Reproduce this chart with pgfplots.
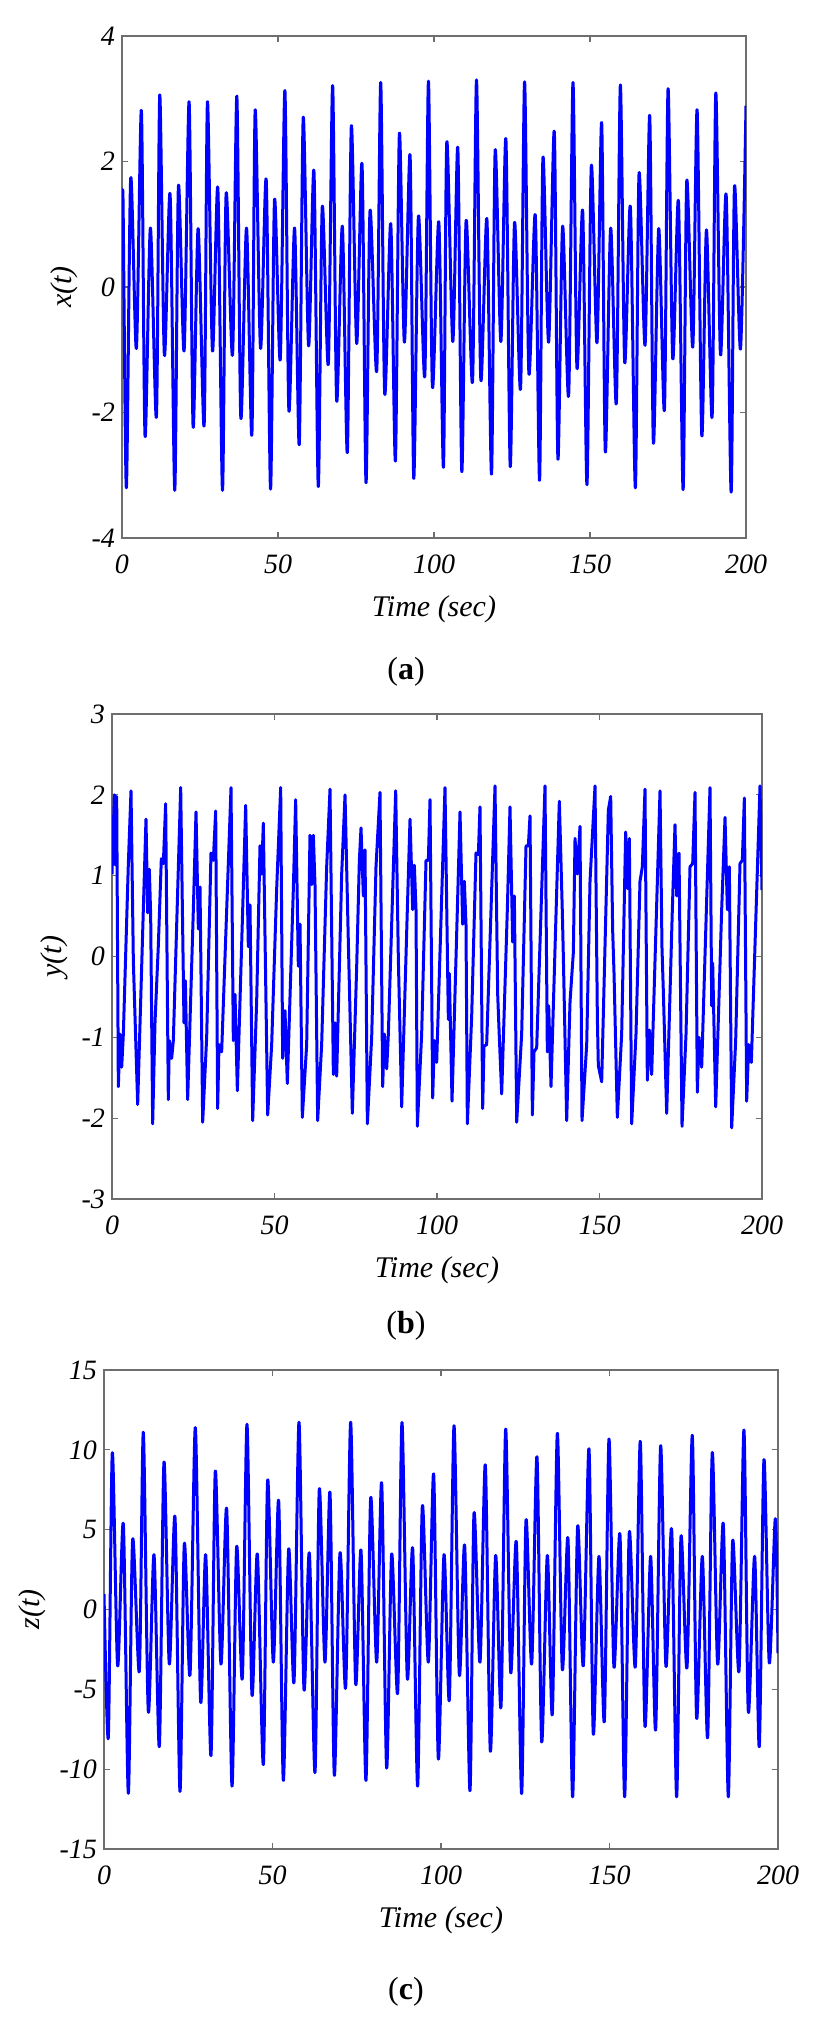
\documentclass[border=0pt]{standalone}
\usepackage{fontspec}
\setmainfont{Liberation Serif}
\usepackage{pgfplots}
\pgfplotsset{compat=1.18}
\usepackage{pgfplotstable}

\pgfplotstableread{
t v
0 1.04
0.33 1.38
1.40 -3.20
2.79 1.73
4.61 -0.98
6.21 2.81
7.39 -2.38
9.10 0.94
11.03 -2.07
12.10 3.06
13.59 -1.09
15.41 1.48
16.91 -3.24
18.09 1.61
19.90 -1.02
21.51 2.95
22.79 -2.23
24.40 0.93
26.32 -2.21
27.39 2.95
29.00 -1.02
30.71 1.58
32.21 -3.24
33.38 1.49
35.42 -1.09
36.81 3.04
38.09 -2.09
39.91 0.94
41.62 -2.36
42.69 2.82
44.40 -0.98
46.22 1.71
47.61 -3.22
48.89 1.39
50.71 -1.16
52.21 3.13
53.49 -1.97
55.31 0.94
56.81 -2.51
58.09 2.70
59.81 -0.94
61.52 1.85
62.91 -3.18
64.19 1.28
66.12 -1.23
67.51 3.21
68.80 -1.81
70.62 0.97
72.22 -2.64
73.51 2.57
75.22 -0.90
76.93 1.96
78.21 -3.12
79.50 1.22
81.64 -1.34
82.92 3.26
84.20 -1.70
86.13 1.01
87.63 -2.77
88.91 2.45
90.51 -0.88
92.33 2.10
93.51 -3.05
95.01 1.13
97.04 -1.42
98.22 3.28
99.50 -1.59
101.53 1.04
103.03 -2.87
104.10 2.31
106.03 -0.87
107.63 2.22
108.91 -2.94
110.30 1.06
112.34 -1.51
113.62 3.30
115.01 -1.48
116.94 1.09
118.44 -2.98
119.61 2.18
121.43 -0.87
123.04 2.36
124.43 -2.86
125.82 1.03
127.74 -1.62
129.03 3.27
130.42 -1.38
132.45 1.15
133.84 -3.08
134.91 2.06
136.73 -0.88
138.55 2.48
139.72 -2.74
141.22 0.97
143.15 -1.73
144.54 3.26
145.82 -1.29
147.64 1.22
149.03 -3.15
150.42 1.93
152.24 -0.89
153.74 2.62
154.91 -2.63
156.62 0.94
158.44 -1.85
159.73 3.22
161.12 -1.20
162.93 1.28
164.54 -3.20
165.72 1.81
167.64 -0.93
169.14 2.73
170.32 -2.49
172.03 0.93
173.85 -1.96
175.02 3.16
176.52 -1.14
178.34 1.37
179.84 -3.23
181.01 1.69
182.94 -0.96
184.33 2.82
185.83 -2.37
187.32 0.91
189.14 -2.07
190.32 3.09
191.82 -1.08
193.64 1.47
195.24 -3.27
196.31 1.60
198.24 -0.99
200 2.89
}\dataA

\pgfplotstableread{
t v
0 1.02
0.72 2.00
1.13 1.13
1.44 1.98
1.95 -1.61
2.46 -0.96
2.98 -1.37
3.49 -0.96
5.03 1.15
5.85 2.05
6.57 -0.06
6.98 -0.61
7.90 -1.83
9.64 0.58
10.46 1.70
10.98 0.54
11.49 1.08
11.90 0.51
12.51 -2.07
13.23 -0.82
14.26 0.14
15.18 1.21
15.80 1.15
16.51 1.89
17.33 -1.77
17.64 -1.04
18.36 -1.26
18.87 -1.04
21.13 2.09
22.15 -0.82
22.57 -0.30
23.28 -1.77
25.03 0.58
25.85 1.79
26.57 0.34
27.08 0.86
27.90 -2.05
29.13 -1.00
30.46 1.28
31.18 1.19
31.90 1.80
32.51 -1.88
32.92 -1.09
33.74 -1.18
36.62 2.09
37.33 -1.04
37.85 -0.47
38.57 -1.66
40.21 0.58
41.13 1.87
41.95 0.12
42.46 0.64
43.28 -2.03
44.51 -0.56
45.54 1.37
46.05 1.02
46.56 1.65
47.90 -1.96
49.13 -1.09
50.67 0.84
51.90 2.09
52.51 -1.26
53.23 -0.67
53.95 -1.57
55.80 0.84
56.51 1.94
57.33 -0.12
57.85 0.40
58.56 -1.99
59.90 -1.09
60.92 1.50
61.44 0.89
61.95 1.50
62.46 0.89
63.28 -2.03
64.51 -1.09
66.05 1.11
67.08 2.07
68.11 -1.46
68.62 -0.82
69.13 -1.48
70.67 1.02
71.70 2.00
72.72 0.18
73.03 -0.34
73.95 -1.94
75.29 -0.12
76.11 1.19
76.62 1.59
77.34 0.75
77.85 1.32
78.57 -2.07
79.90 -1.00
81.23 1.11
82.46 2.03
83.28 -1.61
83.80 -0.96
84.52 -1.39
85.03 -0.96
87.29 2.05
88.11 -0.04
88.41 -0.56
89.13 -1.86
90.87 0.58
91.70 1.70
92.52 0.58
93.03 1.13
93.54 0.58
93.95 -2.10
95.28 -0.96
96.62 1.19
97.34 1.19
97.85 1.94
98.67 -1.75
99.18 -1.04
99.90 -1.31
102.46 2.09
103.49 -0.78
103.80 -0.21
104.62 -1.79
106.26 0.58
107.08 1.79
107.90 0.40
108.41 0.93
108.92 0.40
109.34 -2.07
110.67 -0.74
112.00 1.28
112.72 1.26
113.23 1.85
114.05 -1.88
114.46 -1.11
115.28 -1.09
117.85 2.11
118.67 -0.47
119.18 -1.00
119.90 -1.70
121.64 0.58
122.46 1.85
123.28 0.18
123.80 0.75
124.52 -2.05
126.05 -0.96
127.39 1.37
128.11 1.37
128.62 1.74
129.34 -1.96
129.85 -1.18
130.67 -1.13
133.23 2.11
133.95 -1.18
134.36 -0.61
135.08 -1.61
136.82 0.80
137.64 1.92
138.57 0.54
138.88 -0.01
139.90 -2.03
140.93 -0.56
141.95 0.05
142.47 1.46
143.18 1.02
144.00 1.61
144.62 -2.03
146.06 -1.09
147.08 0.93
148.62 2.11
149.34 -0.76
149.64 -1.35
150.67 -1.55
152.72 1.81
153.44 1.98
154.05 0.32
154.47 -0.21
155.49 -1.99
156.82 -0.96
158.05 1.54
158.67 0.84
159.18 1.46
159.90 -2.07
161.23 -0.96
162.46 0.93
163.18 1.11
164.00 2.07
164.72 -1.53
165.34 -0.91
166.05 -1.46
168.62 2.05
169.23 0.10
169.64 -0.43
170.67 -1.94
172.41 0.58
173.23 1.63
173.74 0.75
174.46 1.28
175.39 -2.10
176.62 -0.96
177.85 1.11
178.67 1.15
179.39 2.03
180.10 -1.68
180.62 -1.00
181.44 -1.37
184.00 2.09
184.52 -0.61
184.82 -0.08
185.75 -1.86
187.59 0.58
188.62 1.72
189.34 0.58
189.95 1.11
190.67 -2.12
191.90 -1.04
193.23 1.15
193.95 1.19
194.57 1.96
195.28 -1.79
195.90 -1.09
196.72 -1.31
199.38 2.11
200 0.82
}\dataB

\pgfplotstableread{
t v
0 0.97
1.28 -8.02
2.47 9.82
4.05 -3.53
5.73 5.35
7.22 -11.51
8.50 4.38
10.48 -3.87
11.67 11.10
13.15 -6.40
14.83 3.44
16.42 -8.58
17.80 9.24
19.38 -3.42
21.06 5.80
22.55 -11.39
23.83 4.11
25.52 -4.09
27.10 11.39
28.68 -5.78
30.17 3.44
31.75 -9.15
33.03 8.67
34.71 -3.42
36.40 6.31
37.98 -11.06
39.36 3.93
41.04 -4.31
42.43 11.60
43.91 -5.33
45.50 3.48
47.28 -9.71
48.56 8.11
50.24 -3.30
51.83 6.81
53.21 -10.70
54.79 3.78
56.38 -4.54
57.86 11.73
59.34 -4.99
60.93 3.55
62.61 -10.20
63.89 7.55
65.57 -3.30
67.06 7.33
68.35 -10.38
70.03 3.55
71.71 -4.88
73.19 11.73
74.68 -4.65
76.26 3.71
77.74 -10.70
79.13 6.99
80.91 -3.30
82.39 7.93
83.87 -9.93
85.36 3.48
87.14 -5.21
88.42 11.71
90.01 -4.31
91.59 3.84
93.07 -11.06
94.46 6.47
96.24 -3.30
97.82 8.49
99.21 -9.37
100.89 3.44
102.47 -5.66
103.86 11.51
105.44 -4.09
107.02 4.00
108.60 -11.35
109.79 6.02
111.57 -3.30
113.15 9.06
114.64 -8.88
116.22 3.39
117.80 -6.11
119.19 11.30
120.67 -3.93
122.35 4.22
123.93 -11.53
125.22 5.57
126.90 -3.42
128.48 9.57
129.87 -8.29
131.55 3.39
133.03 -6.56
134.52 11.03
136.00 -3.75
137.67 4.45
139.06 -11.73
140.54 5.19
142.22 -3.53
143.91 10.07
145.19 -7.80
146.87 3.33
148.46 -7.01
149.84 10.67
151.32 -3.60
153.10 4.70
154.49 -11.73
155.87 4.83
157.65 -3.60
159.14 10.52
160.52 -7.30
162.20 3.33
163.69 -7.53
165.17 10.25
166.75 -3.57
168.44 5.01
169.92 -11.73
171.21 4.56
172.99 -3.64
174.57 10.90
175.85 -6.79
177.54 3.33
179.12 -8.02
180.50 9.84
182.09 -3.42
183.77 5.35
185.25 -11.73
186.54 4.29
188.42 -3.87
189.90 11.24
191.19 -6.40
193.06 3.33
194.45 -8.58
195.83 9.39
197.42 -3.35
199.20 5.69
200 -2.74
}\dataC

\definecolor{framegray}{RGB}{110,110,110}
\pgfplotsset{
  panel/.style={
    scale only axis,
    xmin=0, xmax=200,
    xtick={0,50,100,150,200},
    axis line style={draw=framegray, line width=0.6pt},
    tick style={draw=framegray, line width=0.6pt},
    tick align=inside,
    major tick length=3pt,
    /pgf/number format/assume math mode=true,
    ticklabel style={font=\fontsize{14}{16}\selectfont\itshape},
    label style={font=\fontsize{15}{18}\selectfont\itshape},
    xticklabel style={yshift=-5pt},
    xlabel={Time (sec)},
    xlabel style={yshift=-4pt},
  },
  sig/.style={color=blue, line width=1.5pt, line join=round},
}

\begin{document}
\begin{tikzpicture}
\useasboundingbox (0,0) rectangle (410pt,-1008.5pt);

\begin{axis}[panel, at={(61pt,-18pt)}, anchor=north west,
  width=312pt, height=251pt,
  ymin=-4, ymax=4, ytick={-4,-2,0,2,4},
  ylabel={x(t)}]
\addplot[sig, smooth, tension=0.45] table[x=t,y=v] {\dataA};
\end{axis}

\begin{axis}[panel, at={(56pt,-357pt)}, anchor=north west,
  width=325pt, height=242.5pt,
  ymin=-3, ymax=3, ytick={-3,-2,-1,0,1,2,3},
  ylabel={y(t)}]
\addplot[sig] table[x=t,y=v] {\dataB};
\end{axis}

\begin{axis}[panel, at={(52pt,-685pt)}, anchor=north west,
  width=337pt, height=239.5pt,
  ymin=-15, ymax=15, ytick={-15,-10,-5,0,5,10,15},
  ylabel={z(t)}]
\addplot[sig, smooth, tension=0.45] table[x=t,y=v] {\dataC};
\end{axis}

\node[font=\fontsize{16}{18}\selectfont] at (203pt,-336pt) {(\textbf{a})};
\node[font=\fontsize{16}{18}\selectfont] at (203pt,-663pt) {(\textbf{b})};
\node[font=\fontsize{16}{18}\selectfont] at (203pt,-996pt) {(\textbf{c})};
\end{tikzpicture}
\end{document}
